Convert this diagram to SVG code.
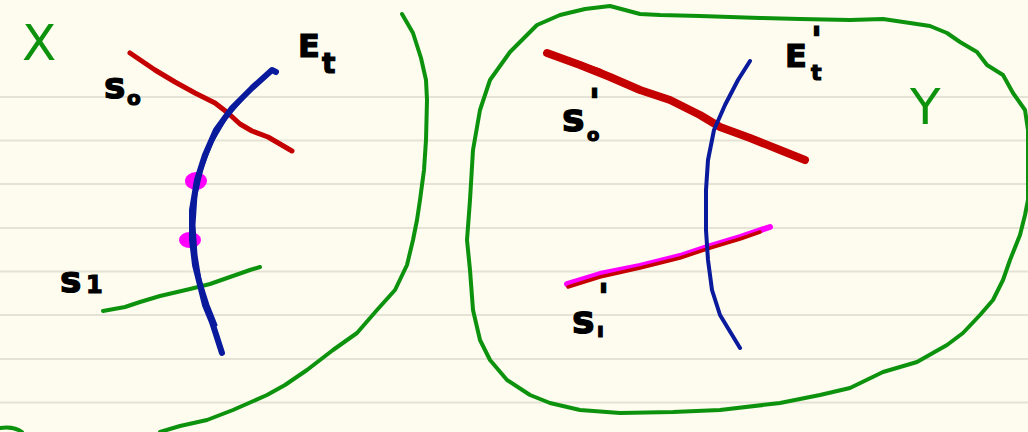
<svg xmlns="http://www.w3.org/2000/svg" width="1028" height="432" viewBox="0 0 1028 432">
<style>
.rule{stroke:#e5e2d6;stroke-width:2}
.ink{fill:none;stroke-linecap:round;stroke-linejoin:round}
.green{stroke:#0d920d;stroke-width:4}
.blue{stroke:#0a1a9c}
.red{stroke:#c40000}
.lbl{font-family:"DejaVu Sans","Liberation Sans",sans-serif;fill:#000;stroke:#000;stroke-width:1.2;font-weight:bold}
.glbl{font-family:"DejaVu Sans","Liberation Sans",sans-serif;fill:#0d920d}
</style>
<rect width="1028" height="432" fill="#fdfcef"/>
<g id="paper">
<line class="rule" x1="0" y1="97" x2="1028" y2="97"/>
<line class="rule" x1="0" y1="140.5" x2="1028" y2="140.5"/>
<line class="rule" x1="0" y1="184" x2="1028" y2="184"/>
<line class="rule" x1="0" y1="228" x2="1028" y2="228"/>
<line class="rule" x1="0" y1="271.5" x2="1028" y2="271.5"/>
<line class="rule" x1="0" y1="315" x2="1028" y2="315"/>
<line class="rule" x1="0" y1="359" x2="1028" y2="359"/>
<line class="rule" x1="0" y1="402.5" x2="1028" y2="402.5"/>
</g>
<g id="regionX">
<path class="ink green" d="M402,14 L413,33 L421,58 L426,80 L427,100 L426,140 L424,170 L420,200 L417,220 L413,240 L407,265 L395,290 L377,310 L357,333 L333,350 L307,370 L285,385 L267,395 L233,410 L207,420 L180,426 L160,432"/>
<path class="ink green" d="M0,428 Q14,426 22,432"/>
</g>
<g id="regionY">
<path class="ink green" d="M585,9 L610,6 L640,14 L660,15 L700,16 L760,18 L800,19 L850,20 L883,19 L910,23 L930,26 L947,33 L960,42 L977,52 L987,65 L1003,75 L1013,93 L1025,110 L1028,130 L1028,200 L1025,215 L1020,235 L1010,260 L1003,280 L993,300 L980,315 L963,333 L947,345 L917,362 L883,372 L850,388 L820,395 L780,403 L720,410 L673,412 L620,413 L580,410 L550,403 L530,395 L507,380 L490,360 L480,340 L473,310 L470,270 L467,240 L470,200 L473,150 L480,110 L490,80 L510,52 L537,25 L560,15 Z"/>
</g>
<g id="s0">
<path class="ink red" stroke-width="5" d="M130,53 L155,70 L175,82 L195,93 L215,103 L228,113 L240,124 L252,131 L268,137 L280,144 L292,151"/>
</g>
<g id="s1">
<path class="ink green" stroke-width="5" d="M103,311 L125,307 L140,302 L160,296 L190,289 L210,284 L230,277 L250,270 L260,267"/>
</g>
<g id="et">
<ellipse cx="196" cy="181" rx="11" ry="9" fill="#f0f"/>
<ellipse cx="190" cy="240" rx="11" ry="8" fill="#f0f"/>
<path class="ink blue" stroke-width="6" d="M276,72 L272,70 L252,88 L232,108 L216,130 L205,155 L197,180 L192,210 L192,240 L195,265 L200,285 L205,305 L212,322 L222,353"/>
<path class="ink blue" stroke-width="3" d="M268,74 L245,96 L226,118 L212,142 L202,168 L196,195 L194,225 L196,255 L200,280 L208,305 L216,325"/>
</g>
<g id="s0p">
<path class="ink red" stroke-width="8" d="M547,53 L580,65 L610,77 L640,90 L670,100 L700,115 L720,127 L750,138 L780,150 L805,160"/>
<path class="ink red" stroke-width="3" d="M560,57 L600,70 L630,86 L660,96 L690,108 L715,122"/>
</g>
<g id="s1p">
<path class="ink" stroke="#f0f" stroke-width="6" d="M567,284 L600,274 L640,266 L680,256 L710,246 L740,237 L770,227"/>
<path class="ink red" stroke-width="3.5" d="M568,287 L600,277 L640,268 L680,258 L710,248 L740,239 L760,232"/>
</g>
<g id="etp">
<path class="ink blue" stroke-width="4" d="M750,61 L738,80 L725,105 L714,130 L708,160 L706,190 L706,230 L708,260 L712,290 L720,315 L740,348"/>
</g>
<g id="labels">
<text class="glbl" x="22" y="60" font-size="50">X</text>
<text class="glbl" x="910" y="124" font-size="50">Y</text>
<text class="lbl" x="298" y="57" font-size="32">E<tspan x="322" y="73" font-size="28">t</tspan></text>
<text class="lbl" x="104" y="98" font-size="36">s<tspan x="127" y="105" font-size="20">o</tspan></text>
<text class="lbl" x="60" y="292" font-size="36">s<tspan x="86" y="293" font-size="24">1</tspan></text>
<text class="lbl" x="562" y="131" font-size="38">s<tspan x="587" y="141" font-size="18">o</tspan><tspan x="589" y="114" font-size="36">'</tspan></text>
<text class="lbl" x="572" y="333" font-size="38">s<tspan x="597" y="337" font-size="20">ı</tspan><tspan x="598" y="309" font-size="36">'</tspan></text>
<text class="lbl" x="785" y="67" font-size="32">E<tspan x="811" y="80" font-size="22">t</tspan><tspan x="811" y="52" font-size="36">'</tspan></text>
</g>
</svg>
